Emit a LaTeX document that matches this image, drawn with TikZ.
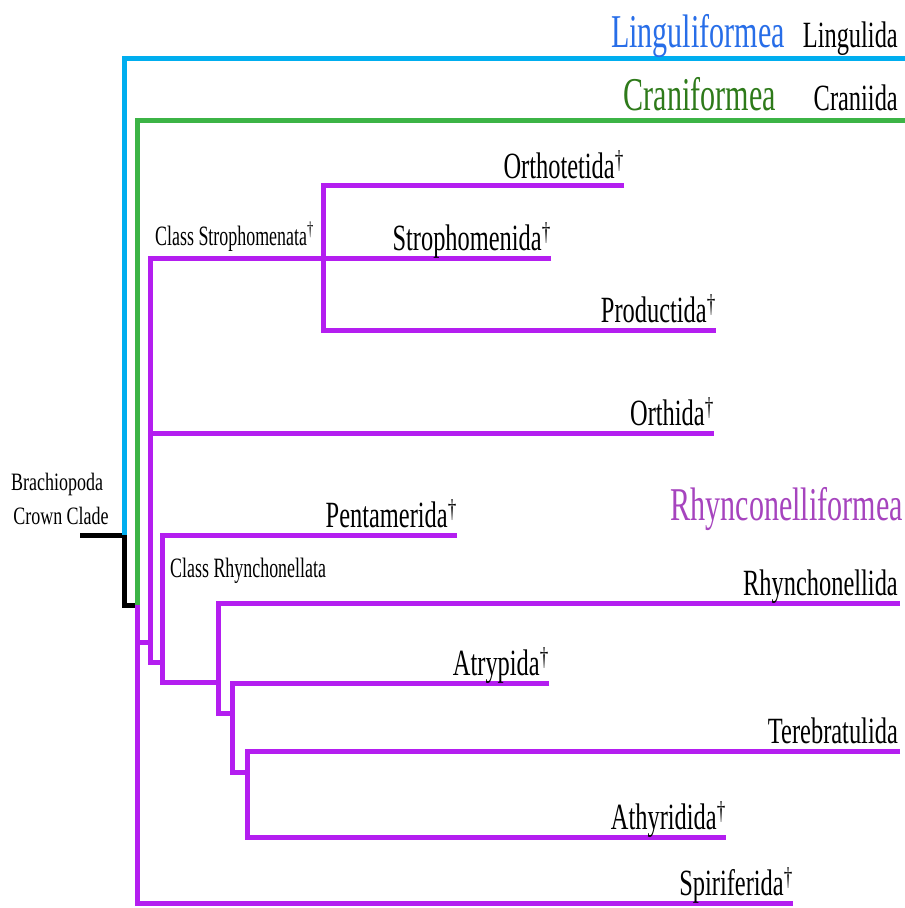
\documentclass[tikz,border=0pt]{standalone}
\usepackage{fontspec}
\setmainfont{Liberation Serif}[FakeStretch=0.64]
\newfontfamily\taxfont{Liberation Serif}[FakeStretch=0.66]
\newfontfamily\widefont{Liberation Serif}[FakeStretch=0.72]
\definecolor{lineblue}{RGB}{0,174,239}
\definecolor{textblue}{RGB}{40,110,232}
\definecolor{linegreen}{RGB}{60,180,70}
\definecolor{textgreen}{RGB}{46,122,26}
\definecolor{linepurple}{RGB}{180,30,240}
\definecolor{textpurple}{RGB}{166,68,190}
\newcommand{\dg}{\textsuperscript{†}}
\tikzset{
  br/.style={line width=5pt, line join=miter, line cap=butt},
  taxon/.style={anchor=base east, inner sep=0pt, font=\taxfont\fontsize{37}{40}\selectfont},
  bigname/.style={anchor=base east, inner sep=0pt, font=\fontsize{47}{50}\selectfont},
  classname/.style={anchor=base west, inner sep=0pt, font=\fontsize{28}{30}\selectfont},
  rootname/.style={anchor=base, inner sep=0pt, font=\widefont\fontsize{25}{27}\selectfont}
}
\begin{document}
\begin{tikzpicture}[x=1pt,y=-1pt]
\useasboundingbox (0,0) rectangle (905,908);
% coordinates
\coordinate (r0) at (80,535);
\coordinate (r1) at (124,535);
\coordinate (r2) at (124,605);
\coordinate (r3) at (137,605);
\coordinate (bT) at (124,58);
\coordinate (bE) at (905,58);
\coordinate (gT) at (137,120);
\coordinate (gE) at (905,120);
\coordinate (pB) at (137,903);
\coordinate (spE) at (793,903);
\coordinate (p1a) at (137,642);
\coordinate (p1b) at (150,642);
\coordinate (sT) at (150,258);
\coordinate (sB) at (150,662);
\coordinate (stE) at (551,258);
\coordinate (orh) at (150,433);
\coordinate (orE) at (714,433);
\coordinate (p2b) at (162,662);
\coordinate (rT) at (162,535);
\coordinate (rB) at (162,682);
\coordinate (peE) at (457,535);
\coordinate (p3b) at (218,682);
\coordinate (q1T) at (218,603);
\coordinate (q1B) at (218,713);
\coordinate (rhE) at (900,603);
\coordinate (q2a) at (232,713);
\coordinate (q2T) at (232,683);
\coordinate (q2B) at (232,772);
\coordinate (atE) at (549,683);
\coordinate (q3a) at (247,772);
\coordinate (q3T) at (247,751);
\coordinate (q3B) at (247,837);
\coordinate (teE) at (900,751);
\coordinate (ahE) at (726,837);
\coordinate (oT) at (323,185);
\coordinate (oB) at (323,330);
\coordinate (otE) at (624,185);
\coordinate (prE) at (716,330);

% branches
\draw[br, black] (r0) -- (r1) -- (r2) -- (r3);
\draw[br, lineblue] (r1) -- (bT) -- (bE);
\draw[br, linegreen] (r3) -- (gT) -- (gE);
\begin{scope}[linepurple]
\draw[br] (r3) -- (pB) -- (spE);
\draw[br] (p1a) -- (p1b);
\draw[br] (stE) -- (sT) -- (sB) -- (p2b);
\draw[br] (orh) -- (orE);
\draw[br] (peE) -- (rT) -- (rB) -- (p3b);
\draw[br] (rhE) -- (q1T) -- (q1B) -- (q2a);
\draw[br] (atE) -- (q2T) -- (q2B) -- (q3a);
\draw[br] (teE) -- (q3T) -- (q3B) -- (ahE);
\draw[br] (otE) -- (oT) -- (oB) -- (prE);
\end{scope}

% labels
\node[bigname, text=textblue] (nLf) at (785,47) {Linguliformea};
\node[taxon] (nLg) at (898,47) {Lingulida};
\node[bigname, text=textgreen] (nCf) at (776,110) {Craniformea};
\node[taxon] (nCr) at (898,110) {Craniida};
\node[bigname, text=textpurple] (nRf) at (903,520) {Rhynconelliformea};
\node[taxon] (nOt) at (624,178) {Orthotetida\dg};
\node[taxon] (nSt) at (551,250) {Strophomenida\dg};
\node[taxon] (nPr) at (716,322) {Productida\dg};
\node[taxon] (nOr) at (714,425) {Orthida\dg};
\node[taxon] (nPe) at (457,527) {Pentamerida\dg};
\node[taxon] (nRh) at (898,595) {Rhynchonellida};
\node[taxon] (nAt) at (549,675) {Atrypida\dg};
\node[taxon] (nTe) at (898,743) {Terebratulida};
\node[taxon] (nAh) at (726,829) {Athyridida\dg};
\node[taxon] (nSp) at (793,895) {Spiriferida\dg};
\node[classname] (cS) at (155,245) {Class Strophomenata\dg};
\node[classname] (cR) at (170,577) {Class Rhynchonellata};
\node[rootname] (rt1) at (57,490) {Brachiopoda};
\node[rootname] (rt2) at (61,524) {Crown Clade};
\end{tikzpicture}
\end{document}
